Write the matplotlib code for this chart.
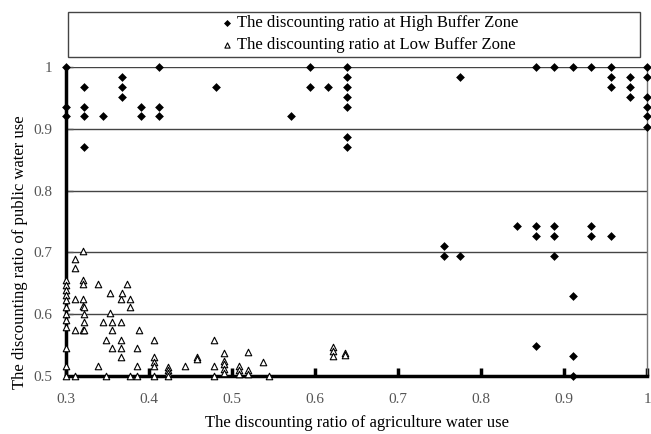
import matplotlib
matplotlib.use("Agg")
import matplotlib.pyplot as plt
from matplotlib.patches import Rectangle

plt.rcParams['font.family'] = ['Liberation Serif', 'DejaVu Serif']

# High Buffer Zone (filled diamonds)
high_x = [0.300, 0.300, 0.300,
          0.322, 0.322, 0.322, 0.322,
          0.345,
          0.367, 0.367, 0.367,
          0.390, 0.390,
          0.412, 0.412, 0.412,
          0.481, 0.571, 0.594, 0.594, 0.616,
          0.639, 0.639, 0.639, 0.639, 0.639, 0.639, 0.639,
          0.755, 0.755, 0.775, 0.775,
          0.843, 0.866, 0.866, 0.866, 0.866,
          0.888, 0.888, 0.888, 0.888,
          0.911, 0.911, 0.911, 0.911,
          0.933, 0.933, 0.933,
          0.956, 0.956, 0.956, 0.956,
          0.979, 0.979, 0.979,
          1.000, 1.000, 1.000, 1.000, 1.000, 1.000]
high_y = [1.000, 0.936, 0.920,
          0.968, 0.936, 0.920, 0.871,
          0.920,
          0.984, 0.968, 0.952,
          0.936, 0.920,
          1.000, 0.936, 0.920,
          0.968, 0.920, 1.000, 0.968, 0.968,
          1.000, 0.984, 0.968, 0.952, 0.936, 0.887, 0.871,
          0.710, 0.694, 0.694, 0.984,
          0.742, 0.742, 0.726, 0.549, 1.000,
          1.000, 0.742, 0.726, 0.694,
          1.000, 0.629, 0.532, 0.500,
          1.000, 0.742, 0.726,
          1.000, 0.984, 0.968, 0.726,
          0.984, 0.968, 0.952,
          1.000, 0.984, 0.952, 0.936, 0.920, 0.903]

# Low Buffer Zone (open triangles)
low_x = [0.300, 0.300, 0.300, 0.300, 0.300, 0.300, 0.300, 0.300, 0.300, 0.300, 0.300, 0.300,
         0.311, 0.311, 0.311, 0.311, 0.311,
         0.321, 0.321, 0.321, 0.321, 0.321, 0.322, 0.322, 0.322, 0.321, 0.322,
         0.338, 0.338,
         0.344, 0.348, 0.348,
         0.353, 0.353, 0.355, 0.355, 0.355,
         0.366, 0.368, 0.366, 0.366, 0.366, 0.366,
         0.373, 0.377, 0.377, 0.377,
         0.385, 0.385, 0.385, 0.388,
         0.406, 0.406, 0.406, 0.406, 0.406,
         0.423, 0.423, 0.423, 0.423,
         0.443,
         0.458, 0.458,
         0.478, 0.478, 0.478,
         0.490, 0.490, 0.490, 0.490, 0.490,
         0.509, 0.509, 0.509,
         0.519, 0.519, 0.519,
         0.537, 0.545,
         0.622, 0.622, 0.622,
         0.636, 0.636]
low_y = [0.655, 0.647, 0.639, 0.631, 0.623, 0.612, 0.601, 0.590, 0.579, 0.546, 0.516, 0.500,
         0.690, 0.675, 0.625, 0.575, 0.500,
         0.703, 0.655, 0.649, 0.625, 0.613, 0.611, 0.601, 0.588, 0.575, 0.575,
         0.649, 0.516,
         0.588, 0.559, 0.500,
         0.635, 0.602, 0.588, 0.575, 0.546,
         0.625, 0.635, 0.588, 0.559, 0.546, 0.531,
         0.649, 0.625, 0.612, 0.500,
         0.546, 0.516, 0.500, 0.575,
         0.559, 0.531, 0.523, 0.516, 0.500,
         0.515, 0.509, 0.505, 0.500,
         0.516,
         0.531, 0.527,
         0.558, 0.516, 0.500,
         0.537, 0.525, 0.520, 0.512, 0.505,
         0.516, 0.509, 0.503,
         0.539, 0.509, 0.504,
         0.522, 0.500,
         0.547, 0.541, 0.533,
         0.538, 0.534]

x_ticks = [0.3, 0.4, 0.5, 0.6, 0.7, 0.8, 0.9, 1.0]
x_labels = ['0.3', '0.4', '0.5', '0.6', '0.7', '0.8', '0.9', '1']
y_ticks = [0.5, 0.6, 0.7, 0.8, 0.9, 1.0]
y_labels = ['0.5', '0.6', '0.7', '0.8', '0.9', '1']

fig = plt.figure(figsize=(6.51, 4.34), dpi=100)
ax = fig.add_axes([0.1014, 0.1336, 0.8925, 0.712])

ax.set_xlim(0.3, 1.0)
ax.set_ylim(0.5, 1.0)

for y in y_ticks[1:]:
    ax.axhline(y, color='#444444', lw=1.0, zorder=1)

ax.scatter(low_x, low_y, marker='^', s=22, facecolor='white', edgecolor='black',
           linewidths=0.8, zorder=3, clip_on=False,
           label='The discounting ratio at Low Buffer Zone')
ax.scatter(high_x, high_y, marker='D', s=20, color='black', linewidths=0,
           zorder=4, clip_on=False,
           label='The discounting ratio at High Buffer Zone')

ax.spines['left'].set_linewidth(2.5)
ax.spines['bottom'].set_linewidth(2.5)
ax.spines['left'].set_color('black')
ax.spines['bottom'].set_color('black')
ax.spines['top'].set_visible(False)
ax.spines['right'].set_color('#777777')
ax.spines['right'].set_linewidth(1.0)

ax.set_xticks(x_ticks)
ax.set_xticklabels(x_labels)
ax.set_yticks(y_ticks)
ax.set_yticklabels(y_labels)
ax.tick_params(axis='x', direction='in', length=6, width=2.5, color='black',
               labelsize=11, labelcolor='#555555', pad=12)
ax.tick_params(axis='y', direction='in', length=5, width=1, color='#555555',
               labelsize=11, labelcolor='#555555', pad=10)

ax.set_xlabel('The discounting ratio of agriculture water use', fontsize=12, labelpad=7)
ax.set_ylabel('The discounting ratio of public water use', fontsize=12)
ax.yaxis.set_label_coords(-0.066, 0.40)

# legend box across the top
fig.patches.append(Rectangle((68 / 651, 1 - 57 / 434), (640 - 68) / 651, 45 / 434,
                             transform=fig.transFigure, facecolor='white',
                             edgecolor='#444444', lw=1.0))
handles, labels = ax.get_legend_handles_labels()
fig.legend(handles[::-1], labels[::-1], loc='center', bbox_to_anchor=(0.566, 0.921),
           frameon=False, fontsize=12, handletextpad=0.1, labelspacing=0.35,
           markerscale=0.8, handlelength=1.0, borderpad=0.1)

fig.savefig('out.png', dpi=100)
